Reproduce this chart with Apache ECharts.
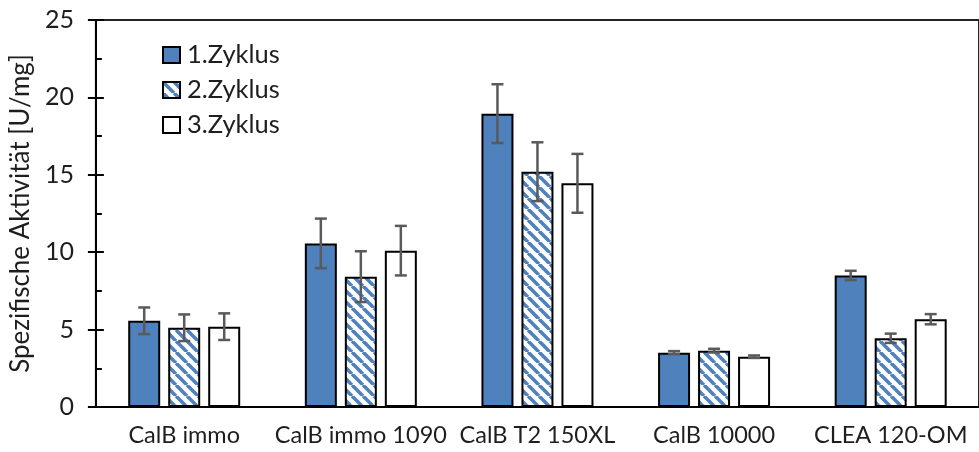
<!DOCTYPE html>
<html>
<head>
<meta charset="utf-8">
<script src="https://cdn.jsdelivr.net/npm/echarts@6/dist/echarts.min.js"></script>
<style>html,body{margin:0;padding:0;background:#fff}#c{width:979px;height:452px}</style>
</head>
<body>
<div id="c"></div>
<script>
const categories = ['CalB immo', 'CalB immo 1090', 'CalB T2 150XL', 'CalB 10000', 'CLEA 120-OM'];
const seriesNames = ['1.Zyklus', '2.Zyklus', '3.Zyklus'];
const cycle1 = [5.57, 10.57, 18.95, 3.51, 8.50];
const cycle2 = [5.12, 8.42, 15.20, 3.64, 4.44];
const cycle3 = [5.19, 10.10, 14.45, 3.25, 5.67];
const err1 = [0.86, 1.60, 1.90, 0.10, 0.30];
const err2 = [0.86, 1.64, 1.90, 0.12, 0.30];
const err3 = [0.86, 1.60, 1.90, 0.08, 0.33];
const yTicks = [0, 5, 10, 15, 20, 25];

const FONT = 'Lato';
const BLUE = '#4F81BD';
const TXT = '#1e1e1e';

function hatch() {
  const s = 11;
  const c = document.createElement('canvas');
  c.width = s; c.height = s;
  const g = c.getContext('2d');
  g.fillStyle = '#fff'; g.fillRect(0, 0, s, s);
  g.strokeStyle = BLUE; g.lineWidth = 3.6;
  for (const x0 of [-s, 0, s]) {
    g.beginPath(); g.moveTo(x0, 0); g.lineTo(x0 + s, s); g.stroke();
  }
  return { image: c, repeat: 'repeat' };
}

const values = [cycle1, cycle2, cycle3];
const errs = [err1, err2, err3];
const fills = [BLUE, hatch(), '#ffffff'];
const BW = 32, GAP = 8;

const series = [];
seriesNames.forEach((n, i) => {
  series.push({
    name: n, type: 'bar', data: values[i], barWidth: BW, barGap: (GAP / BW * 100) + '%',
    itemStyle: { color: fills[i], borderColor: '#000', borderWidth: 2 },
    emphasis: { disabled: true }, z: 2
  });
});
seriesNames.forEach((n, i) => {
  series.push({
    type: 'custom', z: 5, silent: true,
    data: categories.map((c, k) => [k, values[i][k], errs[i][k]]),
    renderItem: (params, api) => {
      const x = api.value(0), v = api.value(1), e = api.value(2);
      const hi = api.coord([x, v + e]), lo = api.coord([x, v - e]);
      const cx = hi[0] + (i - 1) * (BW + GAP);
      const w = 6;
      const st = { stroke: '#5a5a5a', lineWidth: 2.5 };
      return { type: 'group', children: [
        { type: 'line', shape: { x1: cx, y1: hi[1], x2: cx, y2: lo[1] }, style: st },
        { type: 'line', shape: { x1: cx - w, y1: hi[1], x2: cx + w, y2: hi[1] }, style: st },
        { type: 'line', shape: { x1: cx - w, y1: lo[1], x2: cx + w, y2: lo[1] }, style: st }
      ]};
    }
  });
});

const chart = echarts.init(document.getElementById('c'));
chart.setOption({
  animation: false,
  textStyle: { fontFamily: FONT },
  grid: { left: 95, right: -12, top: 20, bottom: 45, show: true, borderColor: '#222', borderWidth: 2, backgroundColor: 'transparent' },
  legend: {
    orient: 'vertical', left: 157, top: 37, itemWidth: 17, itemHeight: 16, itemGap: 9,
    data: seriesNames,
    textStyle: { fontFamily: FONT, fontSize: 25.5, color: TXT, padding: [0, 0, 0, 2] },
    itemStyle: { borderColor: '#000', borderWidth: 2 },
    icon: 'rect', selectedMode: false
  },
  xAxis: {
    type: 'category', data: categories,
    axisLine: { lineStyle: { color: '#000', width: 2 } },
    axisTick: { show: false },
    axisLabel: { fontFamily: FONT, fontSize: 23.5, color: TXT, margin: 16, interval: 0 }
  },
  yAxis: [{
    type: 'value', min: 0, max: 25, interval: 5,
    name: 'Spezifische Aktivität [U/mg]', nameLocation: 'middle', nameGap: 61,
    nameTextStyle: { fontFamily: FONT, fontSize: 26, color: TXT },
    axisLine: { show: true, lineStyle: { color: '#000', width: 2 } },
    axisTick: { show: true, length: 8, lineStyle: { color: '#000', width: 2 } },
    axisLabel: { fontFamily: FONT, fontSize: 25, color: TXT, margin: 22,
      formatter: v => yTicks.includes(v) ? String(v) : '' },
    splitLine: { show: false }
  }, {
    type: 'value', min: 0, max: 25, interval: 5, position: 'left',
    axisLine: { show: false },
    axisTick: { show: true, inside: true, length: 8, lineStyle: { color: '#000', width: 2 } },
    minorTick: { show: true, splitNumber: 2, length: 6, lineStyle: { color: '#000', width: 2 } },
    axisLabel: { show: false }, splitLine: { show: false }
  }],
  series
});
</script>
</body>
</html>
